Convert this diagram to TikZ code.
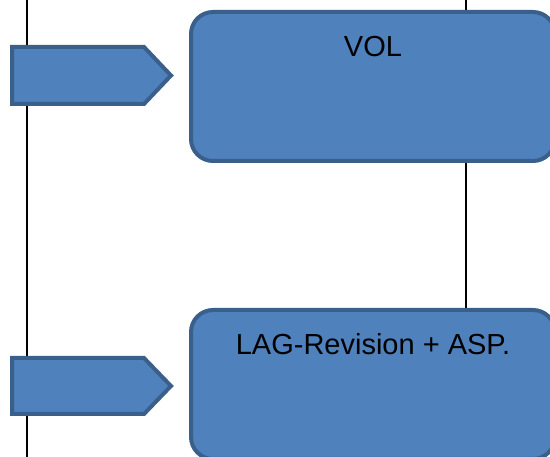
\documentclass[tikz,border=0pt]{standalone}
\usepackage{fontspec}
\setmainfont{Liberation Sans}
\definecolor{boxfill}{HTML}{4F81BD}
\definecolor{boxline}{HTML}{3A5F8B}
\begin{document}
\begin{tikzpicture}[
        x=1pt, y=-1pt,
        every node/.style={outer sep=0pt, inner sep=0pt},
        lane/.style={draw=black, line width=2pt},
        tag/.style={fill=boxfill, draw=boxline, line width=4pt},
        stage/.style={rectangle, rounded corners=22pt,
            minimum width=364pt, minimum height=149pt,
            fill=boxfill, draw=boxline, line width=4pt},
        caption/.style={anchor=base, font=\fontsize{29}{34}\selectfont},
    ]
    \useasboundingbox (0,0) rectangle (550,457);
    \clip (0,0) rectangle (550,457);
    % swimlane borders
    \coordinate (l1) at (27,0);
    \coordinate (l2) at (27,457);
    \coordinate (r1) at (466,0);
    \coordinate (r2) at (466,457);
    \draw[lane] (l1) -- (l2);
    \draw[lane] (r1) -- (r2);
    % first step
    \draw[tag] (12,47) -- (144,47) -- (171,75.5) -- (144,104) -- (12,104) -- cycle;
    \node[stage](vol) at (373,86.5){};
    \node[caption] at ([yshift=-44.7pt]vol.north){VOL};
    % second step
    \draw[tag] (12,358) -- (144,358) -- (171,386) -- (144,414) -- (12,414) -- cycle;
    \node[stage](lag) at (373,384.5){};
    \node[caption] at ([yshift=-44.7pt]lag.north){LAG-Revision + ASP.};
\end{tikzpicture}
\end{document}
